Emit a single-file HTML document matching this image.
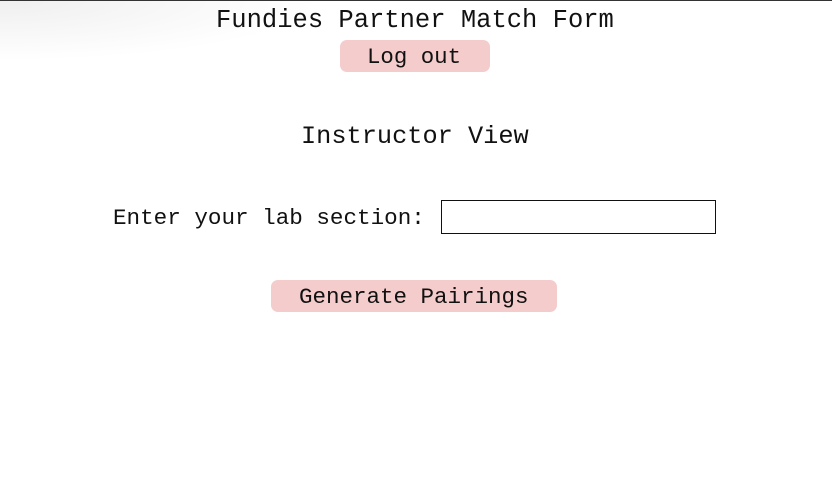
<!DOCTYPE html>
<html><head><style>
html,body{margin:0;padding:0;background:#fff;width:832px;height:488px;overflow:hidden;position:relative;font-family:"Liberation Mono",monospace;color:#111}
.t{position:absolute;white-space:nowrap;line-height:1}
.btn{position:absolute;background:#f4cccc;border-radius:7px}
</style></head><body>
<div style="position:absolute;left:0;top:1px;width:320px;height:60px;background:radial-gradient(ellipse at 0 0,rgba(235,235,235,0.8),rgba(255,255,255,0) 70%)"></div>
<div style="position:absolute;left:0;top:0;width:832px;height:1px;background:#333"></div>
<div class="t" style="left:216px;top:8px;font-size:25.5px">Fundies Partner Match Form</div>
<div class="btn" style="left:340px;top:40px;width:150px;height:32px"></div>
<div class="t" style="left:367px;top:46px;font-size:22.4px">Log out</div>
<div class="t" style="left:301px;top:124px;font-size:25.3px">Instructor View</div>
<div class="t" style="left:113px;top:207px;font-size:22.6px">Enter your lab section:</div>
<div style="position:absolute;left:441px;top:200px;width:273px;height:32px;border:1.5px solid #111"></div>
<div class="btn" style="left:271px;top:280px;width:286px;height:32px"></div>
<div class="t" style="left:299px;top:286px;font-size:22.5px">Generate Pairings</div>
</body></html>
